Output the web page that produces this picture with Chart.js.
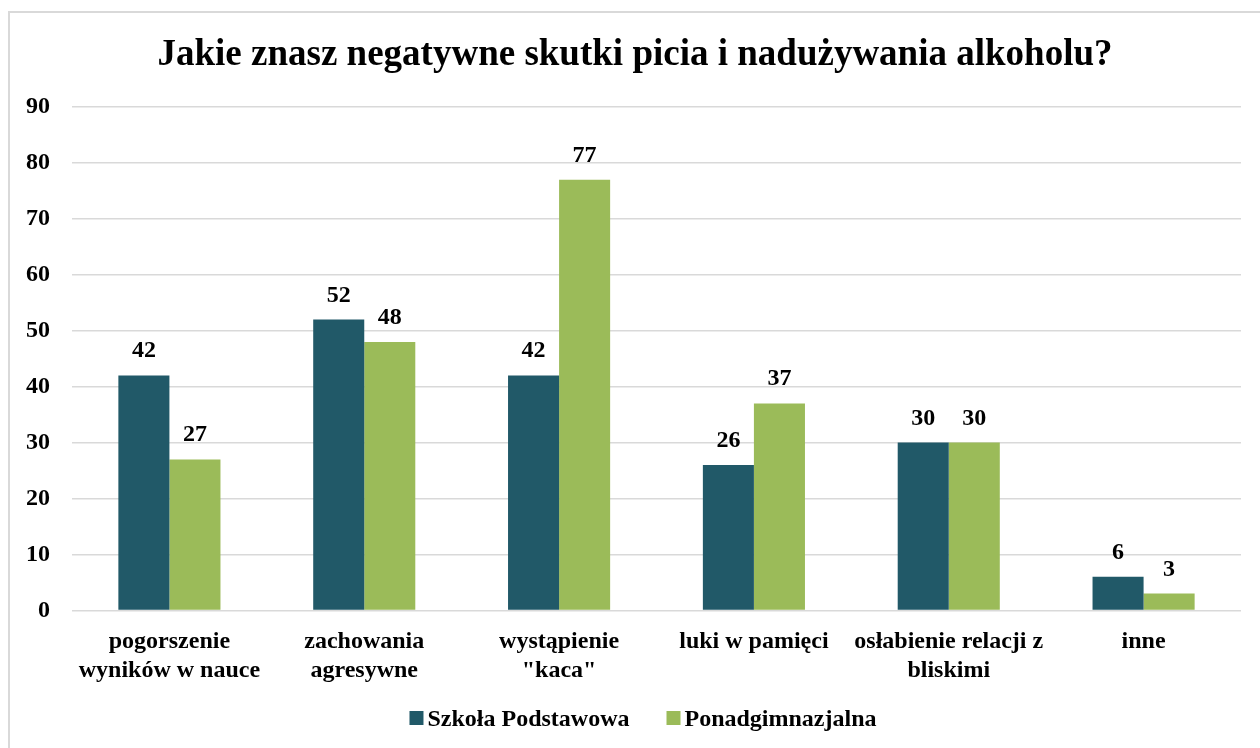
<!DOCTYPE html>
<html>
<head>
<meta charset="utf-8">
<script src="https://cdn.jsdelivr.net/npm/chart.js@4.4.0/dist/chart.umd.min.js"></script>
<style>
  html, body { margin: 0; padding: 0; background: #fff; }
  #wrap { position: relative; width: 1260px; height: 748px; }
  #frame { position: absolute; left: 8px; top: 11px; width: 1260px; height: 760px;
           border: 2px solid #d9d9d9; box-sizing: border-box; pointer-events: none; }
</style>
</head>
<body>
<div id="wrap">
  <canvas id="chart" width="1260" height="748"></canvas>
  <div id="frame"></div>
</div>
<script>
const titleText = 'Jakie znasz negatywne skutki picia i nadużywania alkoholu?';
const categories = [
  ['pogorszenie', 'wyników w nauce'],
  ['zachowania', 'agresywne'],
  ['wystąpienie', '"kaca"'],
  'luki w pamięci',
  ['osłabienie relacji z', 'bliskimi'],
  'inne'
];
const podstawowa = [42, 52, 42, 26, 30, 6];
const ponadgimnazjalna = [27, 48, 77, 37, 30, 3];
const yTicks = [0, 10, 20, 30, 40, 50, 60, 70, 80, 90];

const serif = '"Liberation Serif", "Times New Roman", serif';
const fontSize = 24;

// value above each bar
const valueLabels = {
  id: 'valueLabels',
  afterDatasetsDraw(chart) {
    const ctx = chart.ctx;
    ctx.save();
    ctx.font = 'bold ' + fontSize + 'px ' + serif;
    ctx.fillStyle = '#000';
    ctx.textAlign = 'center';
    ctx.textBaseline = 'alphabetic';
    chart.data.datasets.forEach((ds, i) => {
      chart.getDatasetMeta(i).data.forEach((bar, j) => {
        ctx.fillText(ds.data[j], bar.x, bar.y - 18);
      });
    });
    ctx.restore();
  }
};

// title + legend drawn like the Excel original (centred on the frame, tight legend)
const frameText = {
  id: 'frameText',
  afterDraw(chart) {
    const ctx = chart.ctx;
    const center = chart.width / 2 + 5;
    ctx.save();
    ctx.fillStyle = '#000';
    ctx.textBaseline = 'alphabetic';
    ctx.textAlign = 'center';
    ctx.font = 'bold 37px ' + serif;
    ctx.fillText(titleText, center, 65);

    // legend
    ctx.font = 'bold ' + fontSize + 'px ' + serif;
    ctx.textAlign = 'left';
    const box = 14, gap = 4, spacing = 37;
    const items = chart.data.datasets.map(ds => ({
      text: ds.label, color: ds.backgroundColor, w: ctx.measureText(ds.label).width
    }));
    const total = items.reduce((s, it) => s + box + gap + it.w, 0) + spacing * (items.length - 1);
    let x = center + 8 - total / 2;
    const y = 726;
    items.forEach(it => {
      ctx.fillStyle = it.color;
      ctx.fillRect(x, y - 15, box, box);
      ctx.fillStyle = '#000';
      ctx.fillText(it.text, x + box + gap, y);
      x += box + gap + it.w + spacing;
    });
    ctx.restore();
  }
};

new Chart(document.getElementById('chart'), {
  type: 'bar',
  data: {
    labels: categories,
    datasets: [
      {
        label: 'Szkoła Podstawowa',
        data: podstawowa,
        backgroundColor: '#215968',
        categoryPercentage: 0.524,
        barPercentage: 1
      },
      {
        label: 'Ponadgimnazjalna',
        data: ponadgimnazjalna,
        backgroundColor: '#9bbb59',
        categoryPercentage: 0.524,
        barPercentage: 1
      }
    ]
  },
  options: {
    responsive: false,
    animation: false,
    layout: { padding: { top: 107, left: 4, right: 19, bottom: 46 } },
    scales: {
      y: {
        min: 0,
        max: 90,
        afterBuildTicks: axis => { axis.ticks = yTicks.map(v => ({ value: v })); },
        border: { display: false },
        grid: { color: '#d9d9d9', lineWidth: 1.5, drawTicks: false, tickLength: 0 },
        ticks: {
          color: '#000',
          padding: 22,
          font: { family: serif, size: fontSize, weight: 'bold' }
        }
      },
      x: {
        border: { display: false },
        grid: { display: false, drawTicks: false, tickLength: 0 },
        ticks: {
          color: '#000',
          padding: 17,
          maxRotation: 0,
          font: { family: serif, size: fontSize, weight: 'bold', lineHeight: 1.2 }
        }
      }
    },
    plugins: {
      title: { display: false },
      legend: { display: false },
      tooltip: { enabled: false }
    }
  },
  plugins: [valueLabels, frameText]
});
</script>
</body>
</html>
